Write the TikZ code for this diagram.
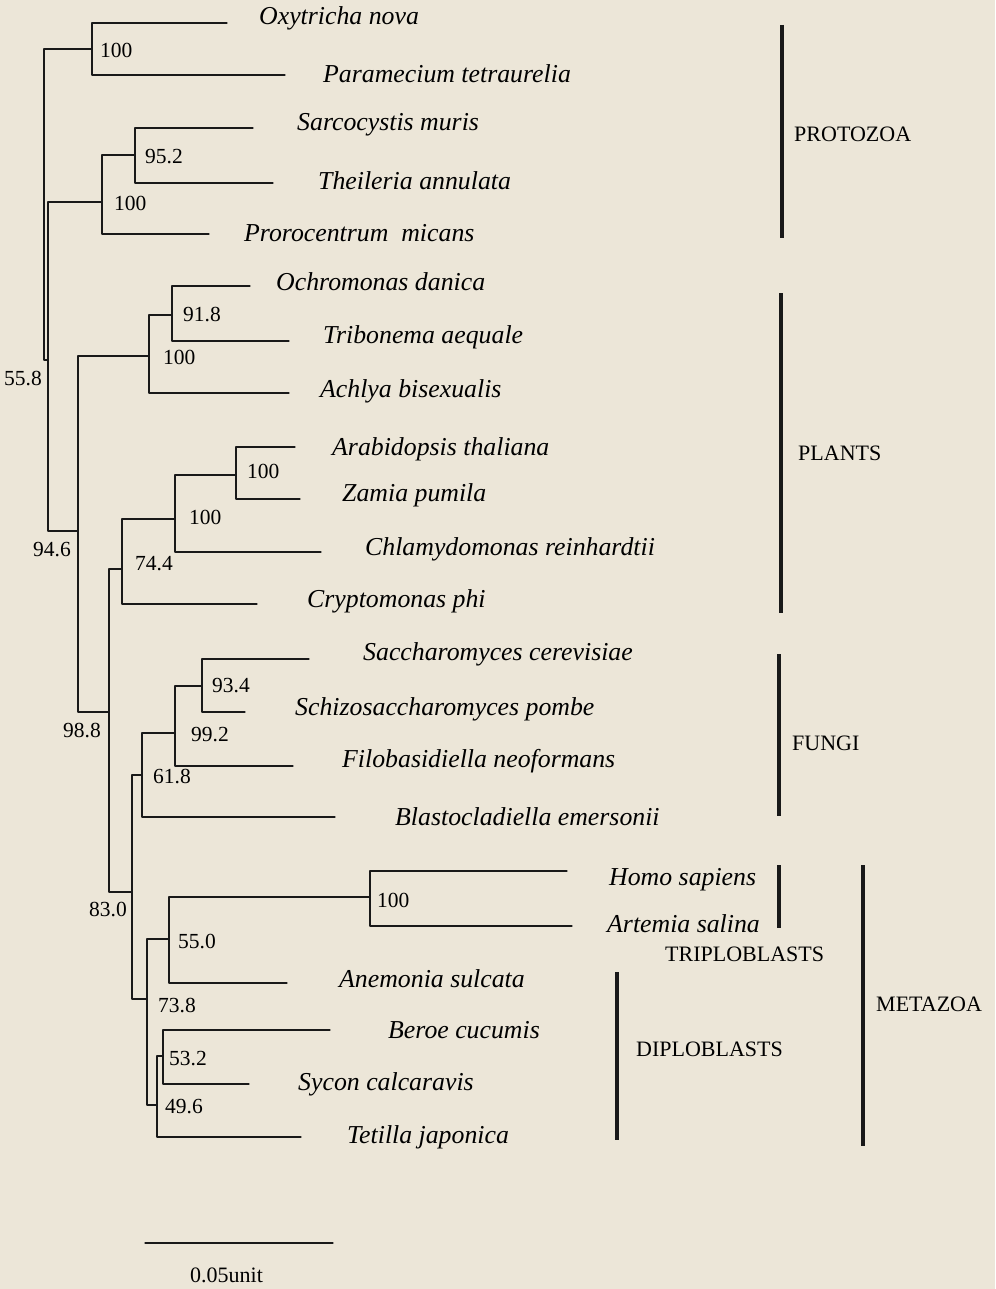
\documentclass[tikz,border=0pt]{standalone}
\usepackage{fontspec}
\setmainfont{Liberation Serif}
\definecolor{paper}{rgb}{0.925,0.902,0.847}
\definecolor{ink}{rgb}{0.1,0.1,0.1}
\tikzset{
	branch/.style={line width=1.3pt,color=ink},
	cladebar/.style={line width=4.5pt,color=ink,line cap=butt},
	taxon/.style={anchor=base west,inner sep=0pt,font=\fontsize{25.8}{30}\selectfont\itshape},
	boot/.style={anchor=west,inner sep=0pt,font=\fontsize{21.5}{25}\selectfont},
	bootleft/.style={boot,anchor=east},
	clade/.style={anchor=base west,inner sep=0pt,font=\fontsize{22}{26}\selectfont},
}

\begin{document}
\begin{tikzpicture}[line cap=round,line join=round,x=1pt,y=-1pt]
	\fill [paper] (0,0) rectangle (995,1289);
	\useasboundingbox (0,0) rectangle (995,1289);

	% inner nodes of the tree
	\coordinate (root) at (44,360);
	\coordinate (op) at (92,49);
	\coordinate (n946) at (48,360);
	\coordinate (sp) at (102,202);
	\coordinate (st) at (135,155);
	\coordinate (n988) at (78,531);
	\coordinate (ota) at (149,356);
	\coordinate (otn) at (172,315);
	\coordinate (n830) at (109,712);
	\coordinate (pl) at (122,569);
	\coordinate (ch) at (175,519);
	\coordinate (az) at (236,475);
	\coordinate (n132) at (132,892);
	\coordinate (fu) at (142,775);
	\coordinate (fy) at (175,733);
	\coordinate (ss) at (202,686);
	\coordinate (me) at (147,999);
	\coordinate (tr) at (169,939);
	\coordinate (ha) at (370,897);
	\coordinate (di) at (157,1105);
	\coordinate (bs) at (163,1056);

	% tips
	\coordinate (oxyT) at (227,23);
	\coordinate (parT) at (285,75);
	\coordinate (sarT) at (253,128);
	\coordinate (theT) at (273,183);
	\coordinate (proT) at (209,234);
	\coordinate (ochT) at (250,286);
	\coordinate (triT) at (289,341);
	\coordinate (achT) at (289,393);
	\coordinate (araT) at (295,447);
	\coordinate (zamT) at (300,499);
	\coordinate (chlT) at (321,552);
	\coordinate (cryT) at (257,604);
	\coordinate (sacT) at (309,659);
	\coordinate (schT) at (245,712);
	\coordinate (filT) at (293,766);
	\coordinate (blaT) at (335,817);
	\coordinate (homT) at (567,871);
	\coordinate (artT) at (572,926);
	\coordinate (aneT) at (287,983);
	\coordinate (berT) at (330,1030);
	\coordinate (sycT) at (249,1084);
	\coordinate (tetT) at (301,1137);

	% branches
	\draw [branch] (root) |- (op) (root) |- (n946);
	\draw [branch] (op) |- (oxyT) (op) |- (parT);
	\draw [branch] (n946) |- (sp) (n946) |- (n988);
	\draw [branch] (sp) |- (st) (sp) |- (proT);
	\draw [branch] (st) |- (sarT) (st) |- (theT);
	\draw [branch] (n988) |- (ota) (n988) |- (n830);
	\draw [branch] (ota) |- (otn) (ota) |- (achT);
	\draw [branch] (otn) |- (ochT) (otn) |- (triT);
	\draw [branch] (n830) |- (pl) (n830) |- (n132);
	\draw [branch] (pl) |- (ch) (pl) |- (cryT);
	\draw [branch] (ch) |- (az) (ch) |- (chlT);
	\draw [branch] (az) |- (araT) (az) |- (zamT);
	\draw [branch] (n132) |- (fu) (n132) |- (me);
	\draw [branch] (fu) |- (fy) (fu) |- (blaT);
	\draw [branch] (fy) |- (ss) (fy) |- (filT);
	\draw [branch] (ss) |- (sacT) (ss) |- (schT);
	\draw [branch] (me) |- (tr) (me) |- (di);
	\draw [branch] (tr) |- (ha) (tr) |- (aneT);
	\draw [branch] (ha) |- (homT) (ha) |- (artT);
	\draw [branch] (di) |- (bs) (di) |- (tetT);
	\draw [branch] (bs) |- (berT) (bs) |- (sycT);

	% bootstrap values
	\node [boot] (bop) at (100,50) {100};
	\node [boot] (bst) at (145,157) {95.2};
	\node [boot] (bsp) at (114,203) {100};
	\node [boot] (botn) at (183,315) {91.8};
	\node [boot] (bota) at (163,357) {100};
	\node [boot] (baz) at (247,471) {100};
	\node [boot] (bch) at (189,517) {100};
	\node [boot] (bpl) at (135,564) {74.4};
	\node [boot] (bss) at (212,686) {93.4};
	\node [boot] (bfy) at (191,735) {99.2};
	\node [boot] (bfu) at (153,776) {61.8};
	\node [boot] (bha) at (377,900) {100};
	\node [boot] (btr) at (178,941) {55.0};
	\node [boot] (bme) at (158,1005) {73.8};
	\node [boot] (bbs) at (169,1059) {53.2};
	\node [boot] (bdi) at (165,1107) {49.6};
	\node [bootleft] (bn946) at (42,379) {55.8};
	\node [bootleft] (bn988) at (71,550) {94.6};
	\node [bootleft] (bn830) at (101,730) {98.8};
	\node [bootleft] (bn132) at (127,909) {83.0};

	% species
	\node [taxon] (oxy) at (259,25) {Oxytricha nova};
	\node [taxon] (par) at (323,83) {Paramecium tetraurelia};
	\node [taxon] (sar) at (297,131) {Sarcocystis muris};
	\node [taxon] (the) at (318,190) {Theileria annulata};
	\node [taxon] (pro) at (244,241) {Prorocentrum\ \ micans};
	\node [taxon] (och) at (276,290) {Ochromonas danica};
	\node [taxon] (tri) at (323,343) {Tribonema aequale};
	\node [taxon] (ach) at (320,397) {Achlya bisexualis};
	\node [taxon] (ara) at (332,455) {Arabidopsis thaliana};
	\node [taxon] (zam) at (342,501) {Zamia pumila};
	\node [taxon] (chl) at (365,555) {Chlamydomonas reinhardtii};
	\node [taxon] (cry) at (307,607) {Cryptomonas phi};
	\node [taxon] (sac) at (363,660) {Saccharomyces cerevisiae};
	\node [taxon] (sch) at (295,715) {Schizosaccharomyces pombe};
	\node [taxon] (fil) at (342,767) {Filobasidiella neoformans};
	\node [taxon] (bla) at (395,825) {Blastocladiella emersonii};
	\node [taxon] (hom) at (609,885) {Homo sapiens};
	\node [taxon] (art) at (607,932) {Artemia salina};
	\node [taxon] (ane) at (339,987) {Anemonia sulcata};
	\node [taxon] (ber) at (388,1038) {Beroe cucumis};
	\node [taxon] (syc) at (298,1090) {Sycon calcaravis};
	\node [taxon] (tet) at (347,1143) {Tetilla japonica};

	% groups
	\coordinate (protoA) at (782,25);  \coordinate (protoB) at (782,238);
	\coordinate (plantA) at (781,293); \coordinate (plantB) at (781,613);
	\coordinate (fungA) at (779,654);  \coordinate (fungB) at (779,816);
	\coordinate (tripA) at (779,865);  \coordinate (tripB) at (779,928);
	\coordinate (dipA) at (617,972);   \coordinate (dipB) at (617,1140);
	\coordinate (metaA) at (863,865);  \coordinate (metaB) at (863,1146);
	\draw [cladebar] (protoA) -- (protoB);
	\draw [cladebar] (plantA) -- (plantB);
	\draw [cladebar] (fungA) -- (fungB);
	\draw [cladebar] (tripA) -- (tripB);
	\draw [cladebar] (dipA) -- (dipB);
	\draw [cladebar] (metaA) -- (metaB);
	\node [clade] (protozoa) at (794,142) {PROTOZOA};
	\node [clade] (plants) at (798,460) {PLANTS};
	\node [clade] (fungi) at (792,750) {FUNGI};
	\node [clade] (triplo) at (665,961) {TRIPLOBLASTS};
	\node [clade] (diplo) at (636,1056) {DIPLOBLASTS};
	\node [clade] (metazoa) at (876,1011) {METAZOA};

	% scale
	\coordinate (scaleL) at (145,1243);
	\coordinate (scaleR) at (333,1243);
	\draw [branch] (scaleL) -- (scaleR);
	\node [clade] (scaletxt) at (190,1282) {0.05unit};
\end{tikzpicture}
\end{document}
